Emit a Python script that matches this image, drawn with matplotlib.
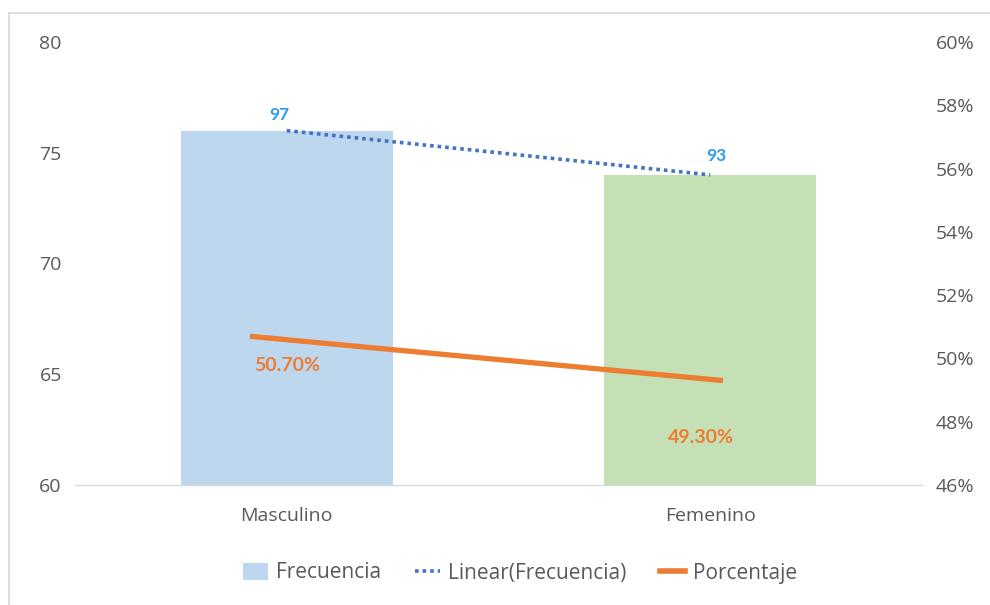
import matplotlib
matplotlib.use("Agg")
import matplotlib.pyplot as plt
from matplotlib.lines import Line2D
from matplotlib.patches import Patch
import numpy as np

plt.rcParams['font.family'] = ['Open Sans', 'DejaVu Sans']

# Data
categories = ["Masculino", "Femenino"]
frecuencia = [76, 74]
frecuencia_labels = ["97", "93"]
porcentaje = [50.70, 49.30]
porcentaje_labels = ["50.70%", "49.30%"]

left_ticks = [60, 65, 70, 75, 80]
right_ticks = [46, 48, 50, 52, 54, 56, 58, 60]

bar_colors = ["#BDD7EE", "#C5E0B4"]
text_gray = "#595959"
trend_color = "#4472C4"
label_blue = "#2E9BF0"
orange = "#ED7D31"
bold_family = ['Lato', 'DejaVu Sans']

W, H = 990, 605
fig = plt.figure(figsize=(W / 100, H / 100), dpi=100)
ax = fig.add_axes([75 / W, 1 - 485 / H, (922 - 75) / W, (485 - 42) / H])
ax2 = ax.twinx()

x = np.arange(len(categories))

# Bars
ax.bar(x, frecuencia, width=0.5, color=bar_colors, zorder=2)
ax.set_ylim(60, 80)
ax.set_xlim(-0.5, 1.5)
ax.set_yticks(left_ticks)
ax.set_xticks(x)
ax.set_xticklabels(categories)

# Linear trendline through the bar values
coef = np.polyfit(x, frecuencia, 1)
trend = np.polyval(coef, x)
ax.plot(x, trend, color=trend_color, lw=2.6, linestyle=(0, (1, 1.1)), zorder=3)
label_offsets = [(-5, 11.5), (4.5, 13.5)]
for xi, yi, lab, off in zip(x, trend, frecuencia_labels, label_offsets):
    ax.annotate(lab, (xi, yi), xytext=off, textcoords="offset points",
                ha="center", va="center", color=label_blue,
                fontsize=12.5, fontweight="bold", family=bold_family, zorder=5)

# Percentage line on the secondary axis
ax2.set_ylim(46, 60)
ax2.set_yticks(right_ticks)
ax2.set_yticklabels([f"{t}%" for t in right_ticks])
line_x = x + np.array([-0.087, 0.03])
ax2.plot(line_x, porcentaje, color=orange, lw=3.8, solid_capstyle="butt", zorder=4)
pct_offsets = [(0, -21), (-7, -41)]
for xi, yi, lab, off in zip(x, porcentaje, porcentaje_labels, pct_offsets):
    ax2.annotate(lab, (xi, yi), xytext=off, textcoords="offset points",
                 ha="center", va="center", color=orange,
                 fontsize=14, fontweight="bold", family=bold_family, zorder=5)

for a in (ax, ax2):
    for s in a.spines.values():
        s.set_visible(False)
    a.tick_params(length=0, labelsize=14, colors=text_gray)
ax.spines["bottom"].set_visible(True)
ax.spines["bottom"].set_color("#D9D9D9")
ax.spines["bottom"].set_linewidth(1)
ax.tick_params(axis="y", pad=9.5)
ax.tick_params(axis="x", pad=16)
ax2.tick_params(axis="y", pad=10)

# Chart border (top and left edges visible)
fig.add_artist(Line2D([9 / W, 1.0], [1 - 13 / H, 1 - 13 / H], color="#D9D9D9", lw=1.2))
fig.add_artist(Line2D([9 / W, 9 / W], [0.0, 1 - 13 / H], color="#D9D9D9", lw=1.2))

# Legend
handles = [
    Patch(facecolor=bar_colors[0], edgecolor="none"),
    Line2D([], [], color=trend_color, lw=2.6, linestyle=(0, (1, 1.1))),
    Line2D([], [], color=orange, lw=4),
]
fig.legend(handles, ["Frecuencia", "Linear(Frecuencia)", "Porcentaje"],
           loc="center", bbox_to_anchor=(520 / W, 1 - 573 / H), ncol=3,
           frameon=False, fontsize=15, labelcolor=text_gray,
           handlelength=1.2, handletextpad=0.4, columnspacing=1.6,
           handleheight=0.9)

fig.savefig("out.png", dpi=100, facecolor="white")
